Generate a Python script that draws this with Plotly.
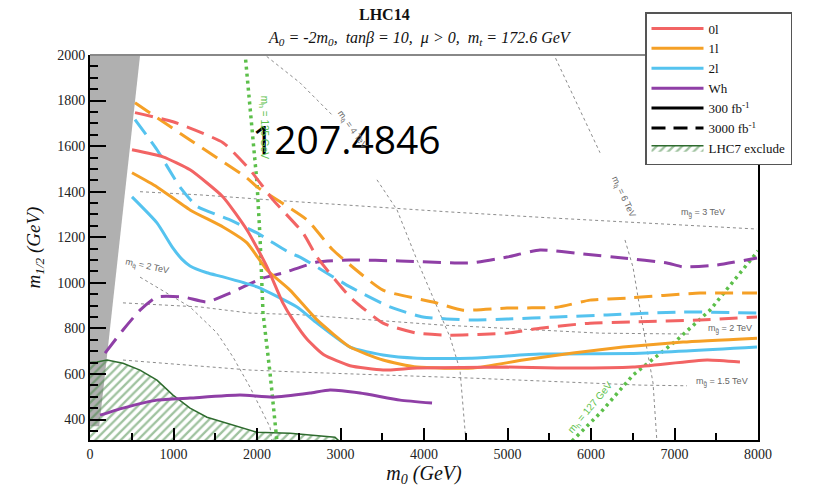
import plotly.graph_objects as go

# ---- reach contours in the (m0, m1/2) plane, GeV ----
m0_0l_300 = [503, 874, 1198, 1593, 1880, 2120, 2311, 2431, 2600, 2800, 3114, 3509, 3916, 4994, 5593, 6503, 7389, 7784]
m12_0l_300 = [1584, 1553, 1496, 1377, 1232, 1070, 911, 837, 752, 684, 636, 617, 626, 630, 626, 630, 661, 652]

m0_1l_300 = [503, 802, 1198, 1593, 1880, 2120, 2395, 2719, 3114, 3509, 3916, 4587, 5186, 5784, 6383, 7102, 7988]
m12_1l_300 = [1483, 1421, 1320, 1245, 1175, 1056, 968, 837, 718, 661, 630, 626, 661, 692, 718, 740, 757]

m0_2l_300 = [503, 802, 994, 1100, 1198, 1400, 1593, 2000, 2479, 2719, 3114, 3509, 3916, 4551, 5389, 6587, 7988]
m12_2l_300 = [1377, 1263, 1152, 1104, 1074, 1044, 1026, 982, 894, 823, 718, 683, 669, 669, 687, 691, 718]

m0_wh_300 = [120, 395, 802, 1198, 1796, 2192, 2635, 2874, 3234, 3713, 4096]
m12_wh_300 = [419, 450, 485, 494, 507, 498, 516, 529, 516, 485, 472]

m0_0l_3000 = [539, 994, 1593, 1916, 2192, 2551, 2719, 3114, 3509, 3916, 4311, 4994, 5389, 5988, 6503, 7305, 7988]
m12_0l_3000 = [1747, 1707, 1615, 1496, 1364, 1219, 1113, 938, 823, 779, 770, 779, 801, 823, 828, 837, 850]

m0_1l_3000 = [539, 1198, 1880, 2000, 2599, 2910, 3509, 4108, 4467, 4994, 5593, 5988, 6431, 7305, 7988]
m12_1l_3000 = [1790, 1627, 1460, 1421, 1276, 1144, 968, 916, 880, 889, 893, 924, 933, 955, 955]

m0_2l_3000 = [539, 802, 1078, 1281, 1677, 2000, 2395, 2515, 3114, 3593, 3988, 4551, 4994, 5593, 6192, 7102, 7988]
m12_2l_3000 = [1716, 1584, 1420, 1336, 1276, 1219, 1131, 1113, 982, 894, 850, 837, 841, 850, 859, 872, 867]

m0_wh_3000 = [180, 395, 599, 802, 1114, 1401, 1677, 2072, 2311, 2719, 3114, 3713, 4551, 4994, 5389, 5904, 6383, 6910, 7102, 7509, 7988]
m12_wh_3000 = [691, 793, 880, 938, 938, 916, 955, 1021, 1043, 1091, 1100, 1096, 1087, 1113, 1144, 1127, 1109, 1087, 1070, 1078, 1109]

# LHC7 excluded region (upper boundary)
m0_lhc7 = [0, 84, 204, 395, 599, 802, 994, 1198, 1401, 1593, 1796, 2000, 2395, 2934, 3000]
m12_lhc7 = [650, 652, 661, 647, 617, 573, 507, 450, 410, 388, 366, 344, 340, 322, 300]

# theoretically excluded corner (grey)
m0_th = [0, 603, 111, 0]
m12_th = [2010, 2010, 370, 370]

# gluino mass contours
m0_gl3 = [599, 1317, 2311, 4311, 5509, 6587, 7988]
m12_gl3 = [1400, 1386, 1360, 1311, 1285, 1265, 1236]
m0_gl2 = [395, 1317, 1916, 2515, 4192, 6108, 7200]
m12_gl2 = [912, 894, 867, 860, 815, 779, 775]
m0_gl15 = [395, 1916, 2515, 4551, 6587, 7150]
m12_gl15 = [661, 617, 608, 582, 551, 548]

# squark mass contours
m0_sq2 = [599, 719, 1198, 1521, 1713, 1916, 2072, 2156, 2180]
m12_sq2 = [1025, 999, 894, 780, 674, 542, 428, 366, 300]
m0_sq4 = [2060, 2515, 2910, None, 3437, 3677, 3916, 4156, 4311, 4431, 4503]
m12_sq4 = [2010, 1878, 1733, None, 1452, 1320, 1100, 894, 762, 617, 300]
m0_sq6 = [5545, 6108, None, 6407, 6503, 6623, 6743, 6790]
m12_sq6 = [2010, 1571, None, 1188, 1069, 806, 560, 300]

# light Higgs mass contours
m0_h125 = [1856, 2000, 2036, 2072, 2156, 2240]
m12_h125 = [2010, 1439, 1202, 868, 604, 300]
m0_h127 = [5772, 6108, 6503, 7030, 7425, 7820, 8000]
m12_h127 = [305, 428, 595, 749, 880, 1056, 1140]

x_ticks = [0, 1000, 2000, 3000, 4000, 5000, 6000, 7000, 8000]
y_ticks = [400, 600, 800, 1000, 1200, 1400, 1600, 1800, 2000]

RED = "#f26464"
ORANGE = "#f5a026"
BLUE = "#55c3ef"
PURPLE = "#8f3fa6"
GREY = "#8c8c8c"
GREEN = "#5cbf4a"
DASH = "18px,9px"
SERIF = "Liberation Serif"
HATCH = dict(shape="/", fgcolor="#3f853f", size=6, solidity=0.38)

fig = go.Figure()

# grey corner
fig.add_trace(go.Scatter(x=m0_th, y=m12_th, fill="toself", mode="lines",
                         fillcolor="#b0b0b0", line=dict(width=0),
                         showlegend=False, hoverinfo="skip"))

# LHC7 exclusion
fig.add_trace(go.Scatter(x=m0_lhc7 + [3000, 0], y=m12_lhc7 + [280, 280], fill="toself",
                         mode="lines", line=dict(color="#2e6b2e", width=1.5),
                         fillcolor="rgba(0,0,0,0)",
                         fillpattern=dict(HATCH, bgcolor="rgba(0,0,0,0)"),
                         showlegend=False, hoverinfo="skip"))

# mass contours
for xs, ys in [(m0_gl3, m12_gl3), (m0_gl2, m12_gl2), (m0_gl15, m12_gl15),
               (m0_sq2, m12_sq2), (m0_sq4, m12_sq4), (m0_sq6, m12_sq6)]:
    fig.add_trace(go.Scatter(x=xs, y=ys, mode="lines", connectgaps=False,
                             line=dict(color=GREY, width=1, dash="3px,3px"),
                             showlegend=False, hoverinfo="skip"))

for xs, ys in [(m0_h125, m12_h125), (m0_h127, m12_h127)]:
    fig.add_trace(go.Scatter(x=xs, y=ys, mode="lines",
                             line=dict(color=GREEN, width=3.5, dash="3px,4px"),
                             showlegend=False, hoverinfo="skip"))

# reach curves
curves = [
    (m0_wh_300, m12_wh_300, PURPLE, "solid"),
    (m0_wh_3000, m12_wh_3000, PURPLE, DASH),
    (m0_2l_300, m12_2l_300, BLUE, "solid"),
    (m0_2l_3000, m12_2l_3000, BLUE, DASH),
    (m0_1l_300, m12_1l_300, ORANGE, "solid"),
    (m0_1l_3000, m12_1l_3000, ORANGE, DASH),
    (m0_0l_300, m12_0l_300, RED, "solid"),
    (m0_0l_3000, m12_0l_3000, RED, DASH),
]
for xs, ys, col, dash in curves:
    fig.add_trace(go.Scatter(x=xs, y=ys, mode="lines",
                             line=dict(color=col, width=3, dash=dash, shape="spline", smoothing=0.5),
                             showlegend=False, hoverinfo="skip"))

# legend entries
for name, col, dash in [("0l", RED, "solid"), ("1l", ORANGE, "solid"),
                        ("2l", BLUE, "solid"), ("Wh", PURPLE, "solid"),
                        ("300 fb<sup>-1</sup>", "black", "solid"),
                        ("3000 fb<sup>-1</sup>", "black", "14px,8px")]:
    fig.add_trace(go.Scatter(x=[None], y=[None], mode="lines", name=name,
                             line=dict(color=col, width=3, dash=dash)))
fig.add_trace(go.Scatter(x=[None], y=[None], mode="lines", name="LHC7 exclude",
                         fill="toself", line=dict(color="#2e6b2e", width=1.5),
                         fillpattern=dict(HATCH, bgcolor="white")))

L, R, T, B = 90, 758, 55, 440
W, H = 827, 487

def px(xp, yp):
    return (xp - L) / (R - L), (B - yp) / (B - T)

ann = []
tx, ty = px(384, 15)
ann.append(dict(x=tx, y=ty, text="<b>LHC14</b>", font=dict(family=SERIF, size=16, color="#111")))
tx, ty = px(420, 38)
ann.append(dict(x=tx, y=ty,
                text="<i>A<sub>0</sub> = -2m<sub>0</sub>,  tanβ = 10,  μ > 0,  m<sub>t</sub> = 172.6 GeV</i>",
                font=dict(family=SERIF, size=16, color="#111")))
tx, ty = px(346, 138)
ann.append(dict(x=tx, y=ty, text="1207.4846", font=dict(family="Open Sans", size=39, color="black")))
for a in ann:
    a.update(xref="paper", yref="paper", showarrow=False, xanchor="center", yanchor="middle")

small = dict(family="Liberation Sans", size=9, color="#666")
labels = [
    (7341, 1307, "m<sub>g̃</sub> = 3 TeV", 0, small),
    (7665, 798, "m<sub>g̃</sub> = 2 TeV", 0, small),
    (7569, 565, "m<sub>g̃</sub> = 1.5 TeV", 0, small),
    (683, 1070, "m<sub>q̃</sub> = 2 TeV", 12, small),
    (3138, 1672, "m<sub>q̃</sub> = 4 TeV", 55, small),
    (6383, 1377, "m<sub>q̃</sub> = 6 TeV", 65, small),
    (2084, 1685, "m<sub>h</sub> = 125 GeV", 90, dict(family="Liberation Sans", size=10, color=GREEN)),
    (5988, 450, "m<sub>h</sub> = 127 GeV", -50, dict(family="Liberation Sans", size=10, color=GREEN)),
]
for x, y, t, ang, f in labels:
    ann.append(dict(x=x, y=y, xref="x", yref="y", text=t, textangle=ang, font=f, showarrow=False,
                    xanchor="center", yanchor="middle"))

fig.update_layout(
    width=W, height=H,
    margin=dict(l=L, r=W - R, t=T, b=H - B, autoexpand=False),
    paper_bgcolor="white", plot_bgcolor="white",
    annotations=ann,
    shapes=[dict(type="line", xref="paper", yref="paper", x0=0, x1=1, y0=1, y1=1,
                 line=dict(color="#888", width=2), layer="above")],
    legend=dict(x=(645 - L) / (R - L), y=(B - 12) / (B - T), xanchor="left", yanchor="top",
                bgcolor="white", bordercolor="#555", borderwidth=1.5,
                font=dict(family=SERIF, size=13, color="#111"),
                itemwidth=52, tracegroupgap=0),
    xaxis=dict(range=[0, 8000], tickvals=x_ticks, ticks="inside", ticklen=12, tickwidth=2,
               tickcolor="black", showline=True, linecolor="black", linewidth=2,
               showgrid=False, zeroline=False,
               minor=dict(dtick=500, ticks="inside", ticklen=7, tickwidth=1.5, tickcolor="black"),
               tickfont=dict(family=SERIF, size=14, color="#222"),
               title=dict(text="<i>m<sub>0</sub> (GeV)</i>", font=dict(family=SERIF, size=20, color="#111"),
                          standoff=8)),
    yaxis=dict(range=[310, 2000], tickvals=y_ticks, ticks="inside", ticklen=16, tickwidth=2,
               tickcolor="black", showline=True, linecolor="black", linewidth=2, mirror=True,
               showgrid=False, zeroline=False,
               minor=dict(dtick=50, tick0=0, ticks="inside", ticklen=8, tickwidth=1.5, tickcolor="black"),
               tickfont=dict(family=SERIF, size=14, color="#222"),
               title=dict(text="<i>m<sub>1/2</sub> (GeV)</i>", font=dict(family=SERIF, size=19, color="#111"),
                          standoff=12)),
)

fig.write_html("out.html")
